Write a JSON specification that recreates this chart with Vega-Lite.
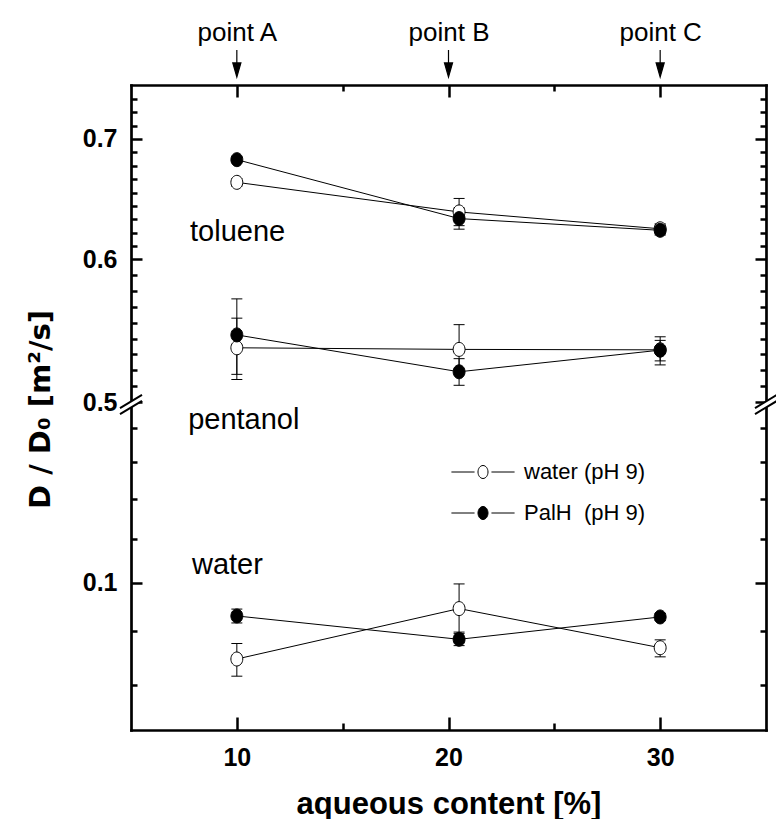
{
  "$schema": "https://vega.github.io/schema/vega-lite/v6.json",
  "padding": {"left": 25, "top": 19, "right": 0, "bottom": 0},
  "background": "white",
  "spacing": 0,
  "bounds": "flush",
  "config": {
    "view": {"stroke": null},
    "axis": {"grid": false, "domainColor": "black", "tickColor": "black", "labelColor": "black", "titleColor": "black", "tickWidth": 2.5, "domainWidth": 2.7, "labelOverlap": false, "labelFlush": false, "domainCap": "square"}
  },
  "datasets": {
    "meas": [
      {"panel": "upper", "solvent": "toluene", "series": "water (pH 9)", "x": 10, "y": 0.6622, "lo": 0.659, "hi": 0.6655},
      {"panel": "upper", "solvent": "toluene", "series": "water (pH 9)", "x": 20.5, "y": 0.6376, "lo": 0.6265, "hi": 0.6487},
      {"panel": "upper", "solvent": "toluene", "series": "water (pH 9)", "x": 30, "y": 0.624, "lo": 0.62, "hi": 0.628},
      {"panel": "upper", "solvent": "pentanol", "series": "water (pH 9)", "x": 10, "y": 0.5359, "lo": 0.5146, "hi": 0.5566},
      {"panel": "upper", "solvent": "pentanol", "series": "water (pH 9)", "x": 20.5, "y": 0.5348, "lo": 0.518, "hi": 0.552},
      {"panel": "upper", "solvent": "pentanol", "series": "water (pH 9)", "x": 30, "y": 0.5345, "lo": 0.527, "hi": 0.541},
      {"panel": "lower", "solvent": "water", "series": "water (pH 9)", "x": 10, "y": 0.0847, "lo": 0.0816, "hi": 0.0876},
      {"panel": "lower", "solvent": "water", "series": "water (pH 9)", "x": 20.5, "y": 0.0945, "lo": 0.0895, "hi": 0.0997},
      {"panel": "lower", "solvent": "water", "series": "water (pH 9)", "x": 30, "y": 0.0868, "lo": 0.0851, "hi": 0.0883},
      {"panel": "upper", "solvent": "toluene", "series": "PalH\u00a0 (pH 9)", "x": 10, "y": 0.6817, "lo": 0.6795, "hi": 0.684},
      {"panel": "upper", "solvent": "toluene", "series": "PalH\u00a0 (pH 9)", "x": 20.5, "y": 0.6322, "lo": 0.6237, "hi": 0.6408},
      {"panel": "upper", "solvent": "toluene", "series": "PalH\u00a0 (pH 9)", "x": 30, "y": 0.6228, "lo": 0.619, "hi": 0.627},
      {"panel": "upper", "solvent": "pentanol", "series": "PalH\u00a0 (pH 9)", "x": 10, "y": 0.5448, "lo": 0.518, "hi": 0.5705},
      {"panel": "upper", "solvent": "pentanol", "series": "PalH\u00a0 (pH 9)", "x": 20.5, "y": 0.5197, "lo": 0.5108, "hi": 0.5285},
      {"panel": "upper", "solvent": "pentanol", "series": "PalH\u00a0 (pH 9)", "x": 30, "y": 0.5343, "lo": 0.5243, "hi": 0.5435},
      {"panel": "lower", "solvent": "water", "series": "PalH\u00a0 (pH 9)", "x": 10, "y": 0.093, "lo": 0.0916, "hi": 0.0944},
      {"panel": "lower", "solvent": "water", "series": "PalH\u00a0 (pH 9)", "x": 20.5, "y": 0.0884, "lo": 0.0872, "hi": 0.0898},
      {"panel": "lower", "solvent": "water", "series": "PalH\u00a0 (pH 9)", "x": 30, "y": 0.0928, "lo": 0.0921, "hi": 0.0935}
    ],
    "notes": [
      {"panel": "upper", "label": "toluene", "x": 7.79, "y": 0.6143},
      {"panel": "lower", "label": "pentanol", "x": 7.7, "y": 0.1397},
      {"panel": "lower", "label": "water", "x": 7.88, "y": 0.1018}
    ],
    "marks": [{"x": 10, "label": "point A"}, {"x": 20, "label": "point B"}, {"x": 30, "label": "point C"}],
    "breaks": [{"x": 5, "y": 0.148}, {"x": 35, "y": 0.148}]
  },
  "vconcat": [
    {
      "width": 635,
      "height": 317,
      "layer": [
        {
          "data": {"name": "meas"},
          "transform": [{"filter": {"field": "panel", "equal": "upper"}}],
          "mark": {"type": "line", "color": "black", "strokeWidth": 1},
          "encoding": {
            "x": {"field": "x", "type": "quantitative", "scale": {"domain": [5, 35], "nice": false, "zero": false},
              "axis": {"orient": "top", "values": [10, 20, 30], "tickSize": -12, "labelExpr": "datum.value == 10 ? 'point A' : datum.value == 20 ? 'point B' : 'point C'", "labelFont": "Liberation Sans", "labelFontSize": 26, "labelFontWeight": "normal", "labelPadding": 57, "labelBaseline": "alphabetic", "title": null}},
            "y": {"field": "y", "type": "quantitative", "scale": {"type": "log", "domain": [0.5, 0.75], "nice": false},
              "axis": {"orient": "left", "values": [0.5, 0.6, 0.7], "labelExpr": "format(datum.value, '.1f')", "tickSize": -11, "labelPadding": 25, "labelFont": "Liberation Sans", "labelFontSize": 25, "labelFontWeight": "bold", "title": null}},
            "detail": [{"field": "solvent"}, {"field": "series"}]
          }
        },
        {
          "data": {"name": "meas"},
          "transform": [{"filter": {"field": "panel", "equal": "upper"}}],
          "mark": {"type": "rule", "color": "black", "strokeWidth": 1},
          "encoding": {
            "x": {"field": "x", "type": "quantitative", "scale": {"domain": [5, 35], "nice": false, "zero": false},
              "axis": {"orient": "top", "values": [15, 25], "tickSize": -6, "labels": false, "domain": false, "title": null}},
            "y": {"field": "lo", "type": "quantitative", "scale": {"type": "log", "domain": [0.5, 0.75], "nice": false},
              "axis": {"orient": "left", "values": [0.51023, 0.52068, 0.53133, 0.5422, 0.5533, 0.56462, 0.57618, 0.58797, 0.61037, 0.62091, 0.63164, 0.64255, 0.65365, 0.66494, 0.67643, 0.68812, 0.71209, 0.7244, 0.73691], "tickSize": -6, "labels": false, "domain": false, "title": null}},
            "y2": {"field": "hi"}
          }
        },
        {
          "data": {"name": "meas"},
          "transform": [{"filter": {"field": "panel", "equal": "upper"}}],
          "mark": {"type": "tick", "orient": "horizontal", "color": "black", "thickness": 1, "size": 11, "opacity": 1},
          "encoding": {
            "x": {"field": "x", "type": "quantitative", "scale": {"domain": [5, 35], "nice": false, "zero": false}, "axis": null},
            "y": {"field": "lo", "type": "quantitative", "scale": {"type": "log", "domain": [0.5, 0.75], "nice": false},
              "axis": {"orient": "right", "values": [0.5, 0.6, 0.7], "tickSize": -11, "labels": false, "title": null}}
          }
        },
        {
          "data": {"name": "meas"},
          "transform": [{"filter": {"field": "panel", "equal": "upper"}}],
          "mark": {"type": "tick", "orient": "horizontal", "color": "black", "thickness": 1, "size": 11, "opacity": 1},
          "encoding": {
            "x": {"field": "x", "type": "quantitative", "scale": {"domain": [5, 35], "nice": false, "zero": false}, "axis": null},
            "y": {"field": "hi", "type": "quantitative", "scale": {"type": "log", "domain": [0.5, 0.75], "nice": false},
              "axis": {"orient": "right", "values": [0.51023, 0.52068, 0.53133, 0.5422, 0.5533, 0.56462, 0.57618, 0.58797, 0.61037, 0.62091, 0.63164, 0.64255, 0.65365, 0.66494, 0.67643, 0.68812, 0.71209, 0.7244, 0.73691], "tickSize": -6, "labels": false, "domain": false, "title": null}}
          }
        },
        {
          "data": {"name": "meas"},
          "transform": [{"filter": {"field": "panel", "equal": "upper"}}],
          "mark": {"type": "point", "shape": "M -0.85 0 A 0.85 1 0 1 0 0.85 0 A 0.85 1 0 1 0 -0.85 0 Z", "size": 196, "filled": true, "stroke": "black", "strokeWidth": 1, "opacity": 1},
          "encoding": {
            "x": {"field": "x", "type": "quantitative", "scale": {"domain": [5, 35], "nice": false, "zero": false}, "axis": null},
            "y": {"field": "y", "type": "quantitative", "scale": {"type": "log", "domain": [0.5, 0.75], "nice": false}, "axis": null},
            "fill": {"field": "series", "type": "nominal", "scale": {"domain": ["water (pH 9)", "PalH\u00a0 (pH 9)"], "range": ["white", "black"]}, "legend": null}
          }
        },
        {
          "data": {"name": "notes"},
          "transform": [{"filter": {"field": "panel", "equal": "upper"}}],
          "mark": {"type": "text", "align": "left", "baseline": "alphabetic", "font": "Liberation Sans", "fontSize": 29, "color": "black"},
          "encoding": {
            "x": {"field": "x", "type": "quantitative", "scale": {"domain": [5, 35], "nice": false, "zero": false}, "axis": null},
            "y": {"field": "y", "type": "quantitative", "scale": {"type": "log", "domain": [0.5, 0.75], "nice": false}, "axis": null},
            "text": {"field": "label"}
          }
        },
        {
          "data": {"name": "marks"},
          "mark": {"type": "point", "shape": "M 0 -1 L 0 0 M -0.3 -0.04 L 0.3 -0.04 L 0 1 Z", "size": 729, "filled": true, "fill": "black", "stroke": "black", "strokeWidth": 1.2, "opacity": 1},
          "encoding": {
            "x": {"field": "x", "type": "quantitative", "scale": {"domain": [5, 35], "nice": false, "zero": false}, "axis": null},
            "y": {"datum": 0.7709, "type": "quantitative", "scale": {"type": "log", "domain": [0.5, 0.75], "nice": false}, "axis": null}
          }
        }
      ],
      "resolve": {"axis": {"x": "independent", "y": "independent"}}
    },
    {
      "width": 635,
      "height": 328,
      "layer": [
        {
          "data": {"name": "meas"},
          "transform": [{"filter": {"field": "panel", "equal": "lower"}}],
          "mark": {"type": "line", "color": "black", "strokeWidth": 1},
          "encoding": {
            "x": {"field": "x", "type": "quantitative", "scale": {"domain": [5, 35], "nice": false, "zero": false},
              "axis": {"orient": "bottom", "values": [10, 20, 30], "tickSize": -13, "labelPadding": 28, "labelFont": "Liberation Sans", "labelFontSize": 25, "labelFontWeight": "bold", "title": "aqueous content [%]", "titleFont": "Liberation Sans", "titleFontSize": 31, "titleFontWeight": "bold", "titleY": 83, "titleBaseline": "alphabetic"}},
            "y": {"field": "y", "type": "quantitative", "scale": {"type": "log", "domain": [0.0726, 0.148], "nice": false},
              "axis": {"orient": "left", "values": [0.1], "labelExpr": "format(datum.value, '.1f')", "tickSize": -11, "labelPadding": 25, "labelFont": "Liberation Sans", "labelFontSize": 25, "labelFontWeight": "bold", "title": "D / D₀ [m²/s]", "titleFont": "DejaVu Sans", "titleFontSize": 29, "titleFontWeight": "bold", "titleAngle": -90, "titleX": -82, "titleY": 7, "titleAlign": "center", "titleBaseline": "alphabetic"}},
            "detail": [{"field": "solvent"}, {"field": "series"}]
          }
        },
        {
          "data": {"name": "meas"},
          "transform": [{"filter": {"field": "panel", "equal": "lower"}}],
          "mark": {"type": "rule", "color": "black", "strokeWidth": 1},
          "encoding": {
            "x": {"field": "x", "type": "quantitative", "scale": {"domain": [5, 35], "nice": false, "zero": false},
              "axis": {"orient": "bottom", "values": [15, 25], "tickSize": -7, "labels": false, "domain": false, "title": null}},
            "y": {"field": "lo", "type": "quantitative", "scale": {"type": "log", "domain": [0.0726, 0.148], "nice": false},
              "axis": {"orient": "left", "values": [0.08, 0.09, 0.11, 0.12, 0.13, 0.14], "tickSize": -6, "labels": false, "domain": false, "title": null}},
            "y2": {"field": "hi"}
          }
        },
        {
          "data": {"name": "meas"},
          "transform": [{"filter": {"field": "panel", "equal": "lower"}}],
          "mark": {"type": "tick", "orient": "horizontal", "color": "black", "thickness": 1, "size": 11, "opacity": 1},
          "encoding": {
            "x": {"field": "x", "type": "quantitative", "scale": {"domain": [5, 35], "nice": false, "zero": false}, "axis": null},
            "y": {"field": "lo", "type": "quantitative", "scale": {"type": "log", "domain": [0.0726, 0.148], "nice": false},
              "axis": {"orient": "right", "values": [0.1], "tickSize": -11, "labels": false, "title": null}}
          }
        },
        {
          "data": {"name": "meas"},
          "transform": [{"filter": {"field": "panel", "equal": "lower"}}],
          "mark": {"type": "tick", "orient": "horizontal", "color": "black", "thickness": 1, "size": 11, "opacity": 1},
          "encoding": {
            "x": {"field": "x", "type": "quantitative", "scale": {"domain": [5, 35], "nice": false, "zero": false}, "axis": null},
            "y": {"field": "hi", "type": "quantitative", "scale": {"type": "log", "domain": [0.0726, 0.148], "nice": false},
              "axis": {"orient": "right", "values": [0.08, 0.09, 0.11, 0.12, 0.13, 0.14], "tickSize": -6, "labels": false, "domain": false, "title": null}}
          }
        },
        {
          "data": {"name": "meas"},
          "transform": [{"filter": {"field": "panel", "equal": "lower"}}],
          "mark": {"type": "point", "shape": "M -0.85 0 A 0.85 1 0 1 0 0.85 0 A 0.85 1 0 1 0 -0.85 0 Z", "size": 196, "filled": true, "stroke": "black", "strokeWidth": 1, "opacity": 1},
          "encoding": {
            "x": {"field": "x", "type": "quantitative", "scale": {"domain": [5, 35], "nice": false, "zero": false}, "axis": null},
            "y": {"field": "y", "type": "quantitative", "scale": {"type": "log", "domain": [0.0726, 0.148], "nice": false}, "axis": null},
            "fill": {"field": "series", "type": "nominal", "scale": {"domain": ["water (pH 9)", "PalH\u00a0 (pH 9)"], "range": ["white", "black"]},
              "legend": {"orient": "none", "legendX": 341, "legendY": 59, "title": null, "padding": 0, "symbolType": "M -4.86 0 L -1.3 0 M 1.3 0 L 4.86 0 M -0.77 0 A 0.77 1 0 1 0 0.77 0 A 0.77 1 0 1 0 -0.77 0 Z", "symbolSize": 169, "symbolStrokeColor": "black", "symbolStrokeWidth": 1, "symbolOpacity": 1, "labelFont": "Liberation Sans", "labelFontSize": 22, "labelColor": "black", "labelOffset": 30, "rowPadding": 19, "labelLimit": 400}}
          }
        },
        {
          "data": {"name": "notes"},
          "transform": [{"filter": {"field": "panel", "equal": "lower"}}],
          "mark": {"type": "text", "align": "left", "baseline": "alphabetic", "font": "Liberation Sans", "fontSize": 29, "color": "black"},
          "encoding": {
            "x": {"field": "x", "type": "quantitative", "scale": {"domain": [5, 35], "nice": false, "zero": false}, "axis": null},
            "y": {"field": "y", "type": "quantitative", "scale": {"type": "log", "domain": [0.0726, 0.148], "nice": false}, "axis": null},
            "text": {"field": "label"}
          }
        },
        {
          "data": {"name": "breaks"},
          "mark": {"type": "point", "shape": "M -1 0.55 L 1 -0.65 L 1 -0.1 L -1 1.1 Z", "size": 484, "filled": true, "fill": "white", "strokeWidth": 0, "opacity": 1},
          "encoding": {
            "x": {"field": "x", "type": "quantitative", "scale": {"domain": [5, 35], "nice": false, "zero": false}, "axis": null},
            "y": {"field": "y", "type": "quantitative", "scale": {"type": "log", "domain": [0.0726, 0.148], "nice": false}, "axis": null}
          }
        },
        {
          "data": {"name": "breaks"},
          "mark": {"type": "point", "shape": "M -1 0.55 L 1 -0.65 M -1 1.1 L 1 -0.1", "size": 484, "filled": false, "color": "black", "strokeWidth": 2, "opacity": 1},
          "encoding": {
            "x": {"field": "x", "type": "quantitative", "scale": {"domain": [5, 35], "nice": false, "zero": false}, "axis": null},
            "y": {"field": "y", "type": "quantitative", "scale": {"type": "log", "domain": [0.0726, 0.148], "nice": false}, "axis": null}
          }
        }
      ],
      "resolve": {"axis": {"x": "independent", "y": "independent"}}
    }
  ],
  "resolve": {"scale": {"fill": "independent"}, "legend": {"fill": "independent"}}
}
